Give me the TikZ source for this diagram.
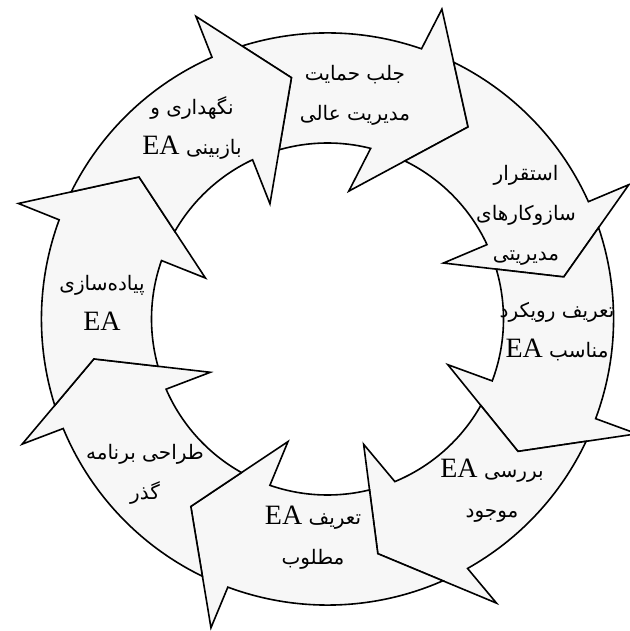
\documentclass[tikz,border=0pt]{standalone}
\usepackage{fontspec}
\setmainfont{Liberation Serif}
\newfontfamily\farsifont[Script=Arabic]{DejaVu Sans}
\TeXXeTstate=1
\usetikzlibrary{calc, intersections}
\definecolor{arrowfill}{HTML}{F7F7F7}
\tikzstyle{cycarrow} = [draw=black, line width=1.6pt, fill=arrowfill]
\tikzstyle{steptext} = [align=center, text=black, inner sep=0pt, font=\fontsize{20}{40}\selectfont]
\newcommand{\fa}[1]{{\farsifont\beginR #1\endR}}
\newcommand{\ea}{{\rmfamily\fontsize{28}{40}\selectfont\beginL EA\endL}}
\def\arrowdata{1/8/70.8/75.8/53.8/238, 2/1/24.2/25/10.1/240, 3/2/-20.4/-20.6/-34.8/232, 4/3/-60.7/-67.5/-77.9/240, 5/4/-110.4/-109.1/-126.1/232, 6/5/-157.5/-156.5/-170.3/237, 7/6/-200.3/-199.4/-217/236, 8/7/113.8/115.2/98.5/244}

\begin{document}
\begin{tikzpicture}[x=1pt, y=1pt]
\useasboundingbox (-327.5,-312) rectangle (301.5,319);

\path [name path=outer] (0,0) circle (286pt);
\path [name path=inner] (0,0) circle (176pt);

\foreach \k/\prev/\bo/\bi/\tp/\tr in \arrowdata {
  \coordinate (bo\k) at (\bo:286pt);
  \coordinate (bi\k) at (\bi:176pt);
  \coordinate (wo\k) at ($(bo\k)!-0.4!(bi\k)$);
  \coordinate (wi\k) at ($(bi\k)!-0.43!(bo\k)$);
  \coordinate (tp\k) at (\tp:\tr pt);
}

\foreach \k/\prev/\bo/\bi/\tp/\tr in \arrowdata {
  \path [name path=headout] (wo\prev) -- (tp\prev);
  \path [name path=headin] (tp\prev) -- (wi\prev);
  \path [name intersections={of=outer and headout, by=to\k}];
  \path [name intersections={of=inner and headin, by=ti\k}];
  \draw [cycarrow] let \p1=(to\k), \p2=(ti\k), \n1={atan2(\y1,\x1)}, \n2={atan2(\y2,\x2)} in
    (to\k) arc [start angle=\n1, end angle=\bo, radius=286pt] -- (wo\k) -- (tp\k) -- (wi\k) -- (bi\k)
    arc [start angle=\bi, end angle=\n2, radius=176pt] -- (tp\prev) -- cycle;
}

\node (support) [steptext] at (27.5,224) {\fa{جلب حمایت}\\\fa{مدیریت عالی}};
\node (mechanisms) [steptext] at (198.5,104) {\fa{استقرار}\\\fa{سازوکارهای}\\\fa{مدیریتی}};
\node (approach) [steptext] at (229.5,-13) {\fa{تعریف رویکرد}\\\fa{مناسب \ea}};
\node (current) [steptext] at (164.5,-172) {\fa{بررسی \ea}\\\fa{موجود}};
\node (target) [steptext] at (-14.5,-219) {\fa{تعریف \ea}\\\fa{مطلوب}};
\node (transition) [steptext] at (-182.5,-155) {\fa{طراحی برنامه}\\\fa{گذر}};
\node (implement) [steptext] at (-225.5,16) {\fa{پیاده‌سازی}\\\fa{\ea}};
\node (maintain) [steptext] at (-135.5,191) {\fa{نگهداری و}\\\fa{بازبینی \ea}};

\end{tikzpicture}
\end{document}
